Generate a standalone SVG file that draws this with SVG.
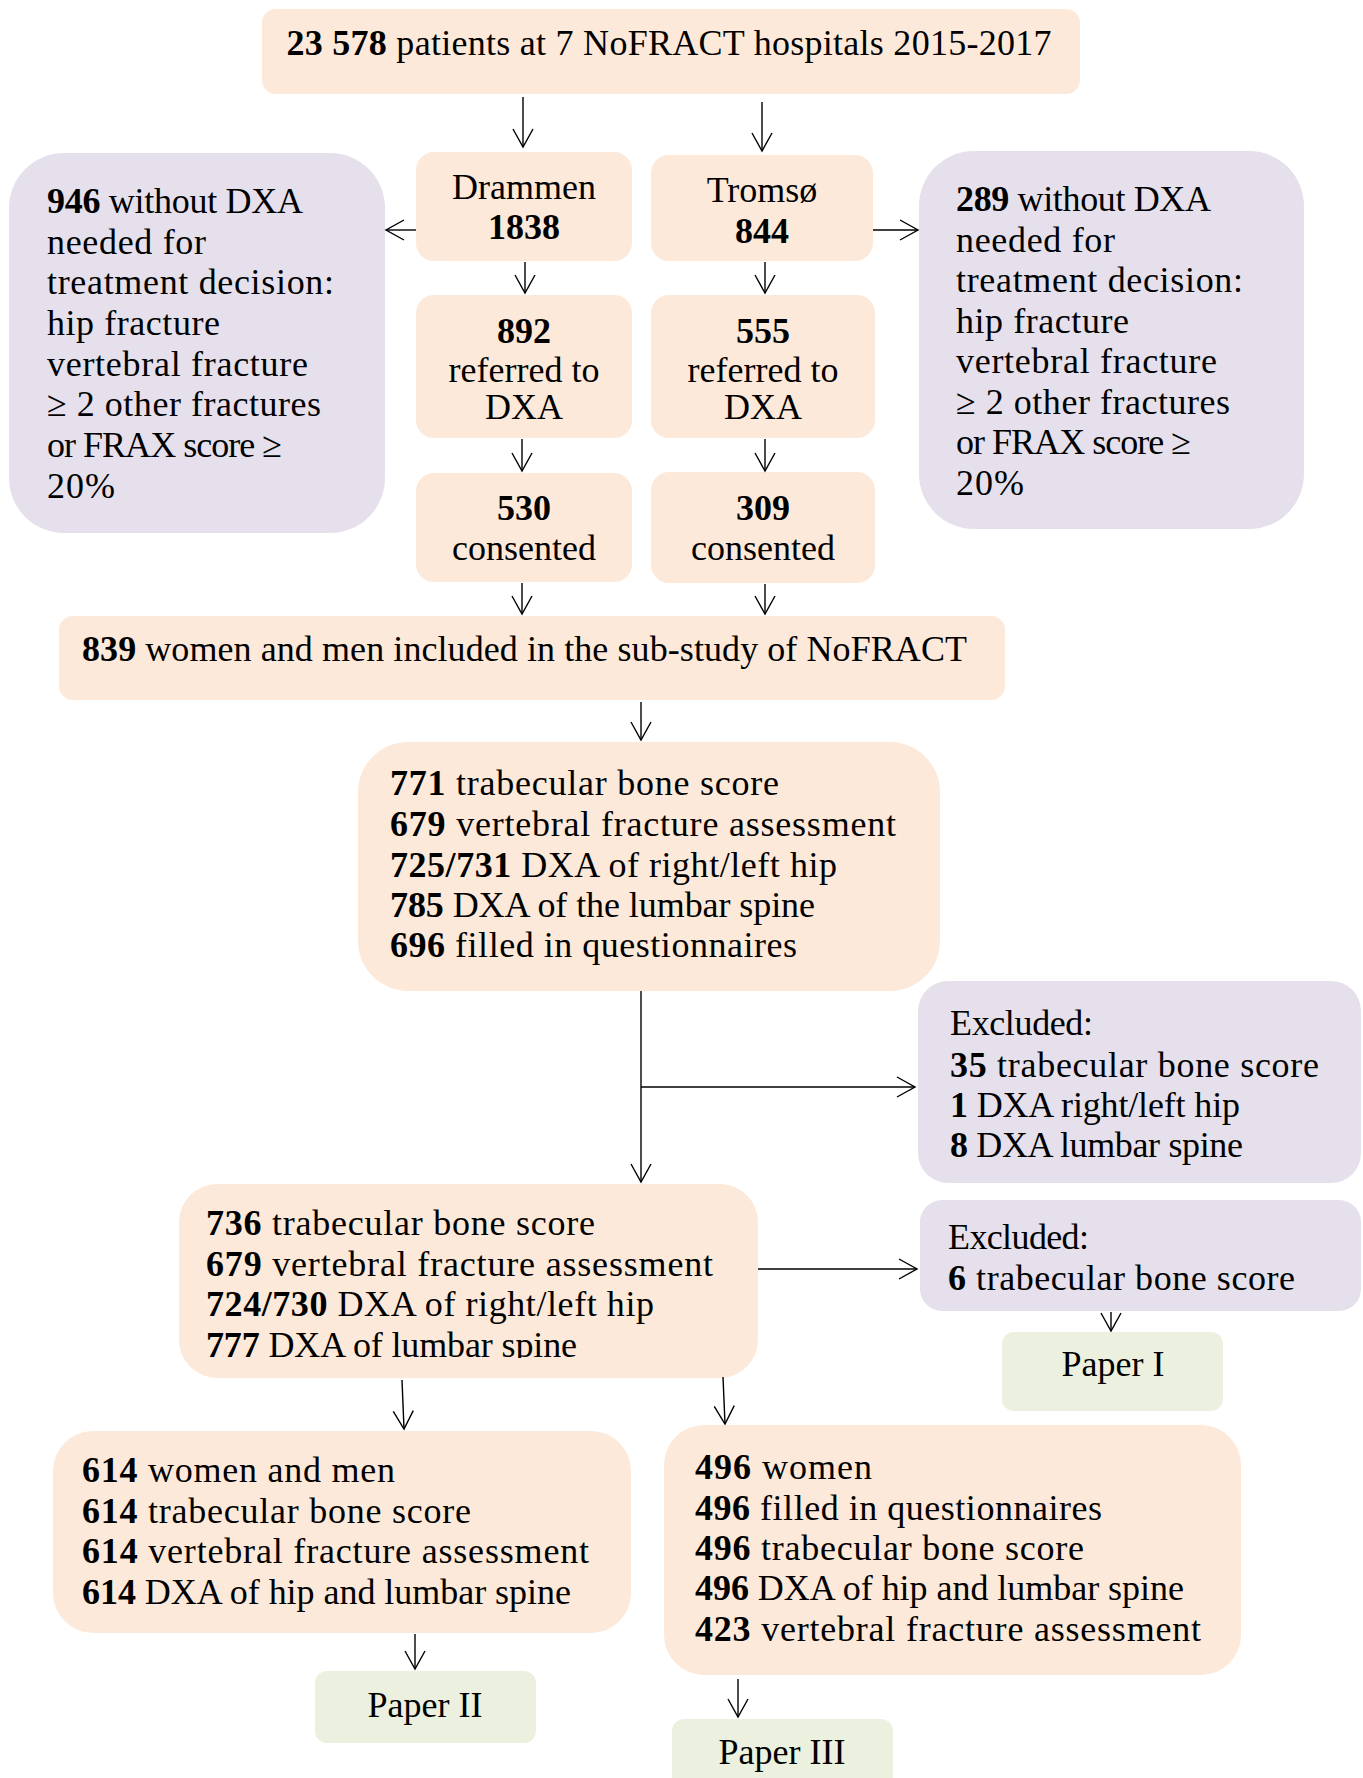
<svg xmlns="http://www.w3.org/2000/svg" width="1363" height="1778" viewBox="0 0 1363 1778">
<style>
.t{font-family:"Liberation Serif","Times New Roman",serif;font-size:36px;fill:#000}
.c{text-anchor:middle}
.b{font-weight:bold}
.pe{fill:#fde9d9}
.pu{fill:#e5e0ec}
.gr{fill:#ebf1de}
.ln{stroke:#000;stroke-width:1.4;fill:none}
</style>
<defs>
<marker id="ah" markerWidth="22" markerHeight="24" refX="20" refY="12" orient="auto" markerUnits="userSpaceOnUse">
<path d="M2,2 L20,12 L2,22" fill="none" stroke="#000" stroke-width="1.4"/>
</marker>
<clipPath id="clip736"><rect x="179" y="1184" width="579" height="174"/></clipPath>
</defs>
<rect width="1363" height="1778" fill="#fff"/>

<g id="n-top">
<rect class="pe" x="262" y="9" width="818" height="85" rx="14"/>
<text class="t c" x="669" y="55" textLength="765" lengthAdjust="spacing"><tspan class="b">23 578</tspan> patients at 7 NoFRACT hospitals 2015-2017</text>
</g>

<g id="n-drammen">
<rect class="pe" x="416" y="152" width="216" height="109" rx="18"/>
<text class="t c" x="524" y="199">Drammen</text>
<text class="t c b" x="524" y="239">1838</text>
</g>

<g id="n-tromso">
<rect class="pe" x="651" y="155" width="222" height="106" rx="18"/>
<text class="t c" x="762" y="202">Tromsø</text>
<text class="t c b" x="762" y="243">844</text>
</g>

<g id="n-left-excl">
<rect class="pu" x="9" y="153" width="376" height="380" rx="55"/>
<text class="t" x="47" y="213" textLength="256" lengthAdjust="spacing"><tspan class="b">946</tspan> without DXA</text>
<text class="t" x="47" y="254" textLength="159" lengthAdjust="spacing">needed for</text>
<text class="t" x="47" y="294" textLength="287" lengthAdjust="spacing">treatment decision:</text>
<text class="t" x="47" y="335" textLength="173" lengthAdjust="spacing">hip fracture</text>
<text class="t" x="47" y="376" textLength="261" lengthAdjust="spacing">vertebral fracture</text>
<text class="t" x="47" y="416" textLength="274" lengthAdjust="spacing">≥ 2 other fractures</text>
<text class="t" x="47" y="457" textLength="235" lengthAdjust="spacing">or FRAX score ≥</text>
<text class="t" x="47" y="498" textLength="68" lengthAdjust="spacing">20%</text>
</g>

<g id="n-right-excl">
<rect class="pu" x="919" y="151" width="385" height="378" rx="55"/>
<text class="t" x="956" y="211" textLength="255" lengthAdjust="spacing"><tspan class="b">289</tspan> without DXA</text>
<text class="t" x="956" y="252" textLength="159" lengthAdjust="spacing">needed for</text>
<text class="t" x="956" y="292" textLength="287" lengthAdjust="spacing">treatment decision:</text>
<text class="t" x="956" y="333" textLength="173" lengthAdjust="spacing">hip fracture</text>
<text class="t" x="956" y="373" textLength="261" lengthAdjust="spacing">vertebral fracture</text>
<text class="t" x="956" y="414" textLength="274" lengthAdjust="spacing">≥ 2 other fractures</text>
<text class="t" x="956" y="454" textLength="235" lengthAdjust="spacing">or FRAX score ≥</text>
<text class="t" x="956" y="495" textLength="68" lengthAdjust="spacing">20%</text>
</g>

<g id="n-892">
<rect class="pe" x="416" y="295" width="216" height="143" rx="18"/>
<text class="t c b" x="524" y="343">892</text>
<text class="t c" x="524" y="382">referred to</text>
<text class="t c" x="524" y="419">DXA</text>
</g>

<g id="n-555">
<rect class="pe" x="651" y="295" width="224" height="143" rx="18"/>
<text class="t c b" x="763" y="343">555</text>
<text class="t c" x="763" y="382">referred to</text>
<text class="t c" x="763" y="419">DXA</text>
</g>

<g id="n-530">
<rect class="pe" x="416" y="473" width="216" height="109" rx="18"/>
<text class="t c b" x="524" y="520">530</text>
<text class="t c" x="524" y="560">consented</text>
</g>

<g id="n-309">
<rect class="pe" x="651" y="472" width="224" height="111" rx="18"/>
<text class="t c b" x="763" y="520">309</text>
<text class="t c" x="763" y="560">consented</text>
</g>

<g id="n-839">
<rect class="pe" x="59" y="616" width="946" height="84" rx="14"/>
<text class="t" x="82" y="661" textLength="885" lengthAdjust="spacing"><tspan class="b">839</tspan> women and men included in the sub-study of NoFRACT</text>
</g>

<g id="n-771">
<rect class="pe" x="358" y="742" width="582" height="249" rx="50"/>
<text class="t" x="390" y="795" textLength="389" lengthAdjust="spacing"><tspan class="b">771</tspan> trabecular bone score</text>
<text class="t" x="390" y="836" textLength="506" lengthAdjust="spacing"><tspan class="b">679</tspan> vertebral fracture assessment</text>
<text class="t" x="390" y="877" textLength="447" lengthAdjust="spacing"><tspan class="b">725/731</tspan> DXA of right/left hip</text>
<text class="t" x="390" y="917" textLength="425" lengthAdjust="spacing"><tspan class="b">785</tspan> DXA of the lumbar spine</text>
<text class="t" x="390" y="957" textLength="407" lengthAdjust="spacing"><tspan class="b">696</tspan> filled in questionnaires</text>
</g>

<g id="n-excl1">
<rect class="pu" x="918" y="981" width="443" height="202" rx="30"/>
<text class="t" x="950" y="1035" textLength="143" lengthAdjust="spacing">Excluded:</text>
<text class="t" x="950" y="1077" textLength="369" lengthAdjust="spacing"><tspan class="b">35</tspan> trabecular bone score</text>
<text class="t" x="950" y="1117" textLength="290" lengthAdjust="spacing"><tspan class="b">1</tspan> DXA right/left hip</text>
<text class="t" x="950" y="1157" textLength="293" lengthAdjust="spacing"><tspan class="b">8</tspan> DXA lumbar spine</text>
</g>

<g id="n-736">
<rect class="pe" x="179" y="1184" width="579" height="194" rx="38"/>
<g clip-path="url(#clip736)">
<text class="t" x="206" y="1235" textLength="389" lengthAdjust="spacing"><tspan class="b">736</tspan> trabecular bone score</text>
<text class="t" x="206" y="1276" textLength="507" lengthAdjust="spacing"><tspan class="b">679</tspan> vertebral fracture assessment</text>
<text class="t" x="206" y="1316" textLength="448" lengthAdjust="spacing"><tspan class="b">724/730</tspan> DXA of right/left hip</text>
<text class="t" x="206" y="1357" textLength="371" lengthAdjust="spacing"><tspan class="b">777</tspan> DXA of lumbar spine</text>
</g>
</g>

<g id="n-excl2">
<rect class="pu" x="920" y="1200" width="441" height="111" rx="22"/>
<text class="t" x="948" y="1249" textLength="141" lengthAdjust="spacing">Excluded:</text>
<text class="t" x="948" y="1290" textLength="347" lengthAdjust="spacing"><tspan class="b">6</tspan> trabecular bone score</text>
</g>

<g id="n-paper1">
<rect class="gr" x="1002" y="1332" width="221" height="79" rx="12"/>
<text class="t c" x="1113" y="1376">Paper I</text>
</g>

<g id="n-614">
<rect class="pe" x="53" y="1431" width="578" height="202" rx="40"/>
<text class="t" x="82" y="1482" textLength="313" lengthAdjust="spacing"><tspan class="b">614</tspan> women and men</text>
<text class="t" x="82" y="1523" textLength="389" lengthAdjust="spacing"><tspan class="b">614</tspan> trabecular bone score</text>
<text class="t" x="82" y="1563" textLength="507" lengthAdjust="spacing"><tspan class="b">614</tspan> vertebral fracture assessment</text>
<text class="t" x="82" y="1604" textLength="489" lengthAdjust="spacing"><tspan class="b">614</tspan> DXA of hip and lumbar spine</text>
</g>

<g id="n-496">
<rect class="pe" x="664" y="1425" width="577" height="250" rx="40"/>
<text class="t" x="695" y="1479" textLength="177" lengthAdjust="spacing"><tspan class="b">496</tspan> women</text>
<text class="t" x="695" y="1520" textLength="407" lengthAdjust="spacing"><tspan class="b">496</tspan> filled in questionnaires</text>
<text class="t" x="695" y="1560" textLength="389" lengthAdjust="spacing"><tspan class="b">496</tspan> trabecular bone score</text>
<text class="t" x="695" y="1600" textLength="489" lengthAdjust="spacing"><tspan class="b">496</tspan> DXA of hip and lumbar spine</text>
<text class="t" x="695" y="1641" textLength="506" lengthAdjust="spacing"><tspan class="b">423</tspan> vertebral fracture assessment</text>
</g>

<g id="n-paper2">
<rect class="gr" x="315" y="1671" width="221" height="72" rx="12"/>
<text class="t c" x="425" y="1717">Paper II</text>
</g>

<g id="n-paper3">
<rect class="gr" x="672" y="1719" width="221" height="80" rx="12"/>
<text class="t c" x="782" y="1764">Paper III</text>
</g>

<g id="connectors" class="ln">
<line x1="523" y1="97" x2="523" y2="147" marker-end="url(#ah)"/>
<line x1="762" y1="102" x2="762" y2="151" marker-end="url(#ah)"/>
<line x1="416" y1="230" x2="386" y2="230" marker-end="url(#ah)"/>
<line x1="873" y1="230" x2="918" y2="230" marker-end="url(#ah)"/>
<line x1="525" y1="262" x2="525" y2="293" marker-end="url(#ah)"/>
<line x1="765" y1="262" x2="765" y2="293" marker-end="url(#ah)"/>
<line x1="522" y1="439" x2="522" y2="471" marker-end="url(#ah)"/>
<line x1="765" y1="439" x2="765" y2="471" marker-end="url(#ah)"/>
<line x1="522" y1="583" x2="522" y2="614" marker-end="url(#ah)"/>
<line x1="765" y1="584" x2="765" y2="614" marker-end="url(#ah)"/>
<line x1="641" y1="702" x2="641" y2="740" marker-end="url(#ah)"/>
<line x1="641" y1="991" x2="641" y2="1182" marker-end="url(#ah)"/>
<line x1="641" y1="1087" x2="915" y2="1087" marker-end="url(#ah)"/>
<line x1="758" y1="1269" x2="917" y2="1269" marker-end="url(#ah)"/>
<line x1="1111" y1="1312" x2="1111" y2="1331" marker-end="url(#ah)"/>
<line x1="402" y1="1380" x2="404" y2="1429" marker-end="url(#ah)"/>
<line x1="723" y1="1377" x2="725" y2="1424" marker-end="url(#ah)"/>
<line x1="415" y1="1634" x2="415" y2="1669" marker-end="url(#ah)"/>
<line x1="738" y1="1679" x2="738" y2="1717" marker-end="url(#ah)"/>
</g>
</svg>
